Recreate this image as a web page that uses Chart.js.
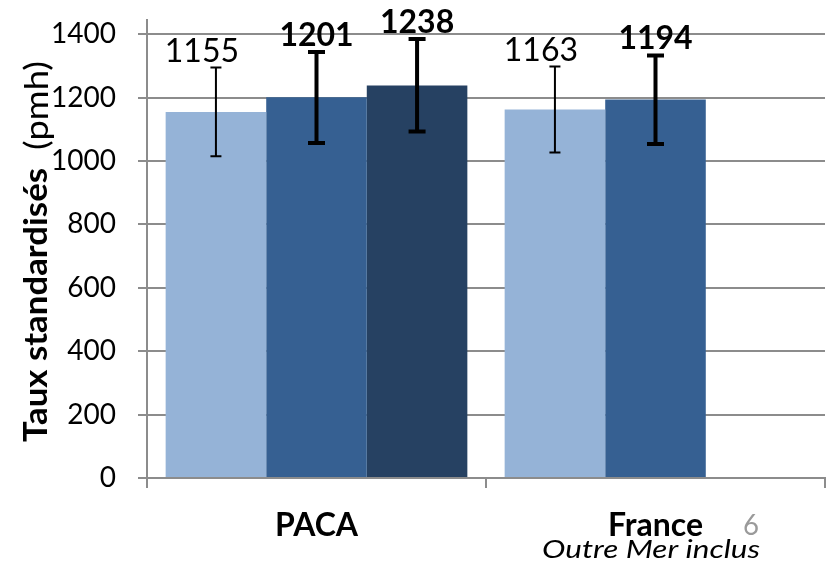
<!DOCTYPE html>
<html><head><meta charset="utf-8">
<script src="https://cdn.jsdelivr.net/npm/chart.js@4.4.1/dist/chart.umd.min.js"></script>
<style>html,body{margin:0;padding:0;background:#fff}#wrap{width:827px;height:569px;position:relative}</style>
</head><body><div id="wrap"><canvas id="c" width="827" height="569"></canvas></div>
<script>
// ---- data ----
const categories = ['PACA', 'France'];
const seriesNames = ['Série 1', 'Série 2', 'Série 3'];
const serie1 = [1155, 1163];
const serie2 = [1201, 1194];
const serie3 = [1238, null];
const serie1Low = [1015, 1027];
const serie1High = [1295, 1298];
const serie2Low = [1057, 1054];
const serie2High = [1344, 1333];
const serie3Low = [1093, null];
const serie3High = [1385, null];
const yTicks = [0, 200, 400, 600, 800, 1000, 1200, 1400];
const yAxisMax = 1445;
const yTitleBold = 'Taux standardisés';
const yTitleUnit = '(pmh)';
const franceNote = 'Outre Mer inclus';
const pageNumber = '6';

// ---- styles ----
const colors = ['#95b3d7', '#366092', '#264162'];
const gridColor = '#8c8c8c';
const lows = [serie1Low, serie2Low, serie3Low];
const highs = [serie1High, serie2High, serie3High];

function fitText(ctx, text, font, x, y, target, rot, color) {
  ctx.save();
  ctx.font = font;
  ctx.fillStyle = color;
  ctx.textBaseline = 'alphabetic';
  ctx.textAlign = 'left';
  ctx.translate(x, y);
  if (rot) ctx.rotate(rot);
  const w = ctx.measureText(text).width;
  ctx.scale(target / w, 1);
  ctx.fillText(text, 0, 0);
  ctx.restore();
}

const extras = {
  id: 'extras',
  afterDatasetsDraw(chart) {
    const ctx = chart.ctx;
    const ys = chart.scales.y;
    chart.data.datasets.forEach((ds, i) => {
      const meta = chart.getDatasetMeta(i);
      ds.data.forEach((v, j) => {
        if (v === null || v === undefined) return;
        const x = meta.data[j].x;
        const yl = ys.getPixelForValue(lows[i][j]);
        const yh = ys.getPixelForValue(highs[i][j]);
        const lw = i === 0 ? 2 : 4;
        const cap = i === 0 ? 5.5 : 8.5;
        ctx.save();
        ctx.strokeStyle = '#000';
        ctx.lineWidth = lw;
        ctx.beginPath();
        ctx.moveTo(x, yl); ctx.lineTo(x, yh);
        ctx.moveTo(x - cap, yh); ctx.lineTo(x + cap, yh);
        ctx.moveTo(x - cap, yl); ctx.lineTo(x + cap, yl);
        ctx.stroke();
        // value label
        ctx.font = (i === 0 ? '' : 'bold ') + '32px Lato';
        ctx.fillStyle = '#000';
        ctx.textAlign = 'center';
        ctx.textBaseline = 'alphabetic';
        ctx.fillText(String(v), x + (i === 0 ? -14 : 0), yh - 6);
        ctx.restore();
      });
    });
  },
  afterDraw(chart) {
    const ctx = chart.ctx;
    fitText(ctx, yTitleBold, 'bold 32px Lato', 47, 442, 274, -Math.PI / 2, '#000');
    fitText(ctx, yTitleUnit, '32px Lato', 48, 150, 89, -Math.PI / 2, '#000');
    fitText(ctx, pageNumber, '28px Lato', 743, 535, 16, 0, '#9a9a9a');
    fitText(ctx, franceNote, 'italic 26px Lato', 542, 558, 218, 0, '#000');
  }
};

new Chart(document.getElementById('c'), {
  type: 'bar',
  data: {
    labels: categories,
    datasets: [serie1, serie2, serie3].map((d, i) => ({
      label: seriesNames[i],
      data: d,
      backgroundColor: colors[i],
      borderWidth: 0,
      categoryPercentage: 0.89,
      barPercentage: 1.0
    }))
  },
  options: {
    responsive: false,
    animation: false,
    devicePixelRatio: 1,
    layout: { padding: { top: 20, right: 2, left: 0, bottom: 0 } },
    plugins: { legend: { display: false }, tooltip: { enabled: false } },
    scales: {
      x: {
        afterFit: s => { s.height = 91; s.paddingLeft = 0; s.paddingRight = 0; },
        grid: { display: true, drawOnChartArea: false, drawTicks: true, tickLength: 10, color: gridColor, lineWidth: 2 },
        border: { display: true, color: gridColor, width: 2 },
        ticks: { color: '#000', font: { family: 'Lato', size: 32, weight: 'bold' }, padding: 18 }
      },
      y: {
        min: 0,
        max: yAxisMax,
        bounds: 'data',
        afterFit: s => { s.width = 147; s.paddingTop = 0; s.paddingBottom = 0; },
        afterBuildTicks: s => { s.ticks = yTicks.map(v => ({ value: v })); },
        grid: { color: gridColor, lineWidth: 2, tickLength: 9, drawTicks: true },
        border: { display: true, color: gridColor, width: 2 },
        ticks: { color: '#000', font: { family: 'Lato', size: 28 }, padding: 22, callback: v => String(v) }
      }
    }
  },
  plugins: [extras]
});
</script>
</body></html>
